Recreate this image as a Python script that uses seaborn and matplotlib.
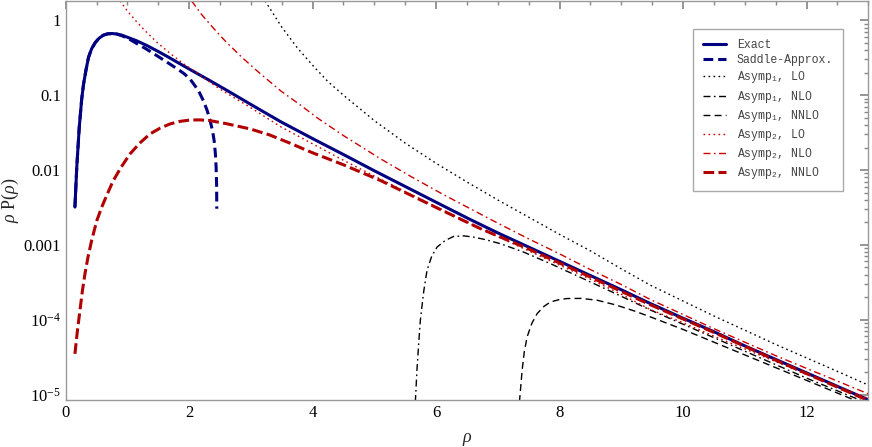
import matplotlib
matplotlib.use("Agg")
import matplotlib.pyplot as plt
import matplotlib.ticker as mticker
import seaborn as sns
import numpy as np
import pandas as pd

# values: rho and log10(rho*P(rho))
exact_x = [0.15, 0.18, 0.22, 0.26, 0.29, 0.33, 0.37, 0.42, 0.48, 0.54, 0.61, 0.68, 0.75, 0.83, 0.91,
           1.03, 1.15, 1.3, 1.48, 1.65, 1.83, 2.0, 2.34, 2.6, 2.99, 3.48, 4.0, 4.5, 5.0, 5.5, 6.0,
           6.56, 7.0, 7.5, 8.0, 8.5, 9.0, 9.47, 10.0, 10.5, 11.0, 11.5, 12.0, 12.5, 13.0]
exact_log = [-2.495, -1.96, -1.43, -1.05, -0.85, -0.66, -0.495, -0.38, -0.296, -0.24, -0.198, -0.18,
             -0.176, -0.182, -0.198, -0.235, -0.273, -0.33, -0.407, -0.485, -0.57, -0.65, -0.807,
             -0.93, -1.119, -1.353, -1.58, -1.793, -2.01, -2.22, -2.43, -2.664, -2.84, -3.03, -3.22,
             -3.41, -3.60, -3.784, -3.98, -4.16, -4.35, -4.53, -4.71, -4.89, -5.07]

saddle_x = [0.15, 0.18, 0.22, 0.26, 0.29, 0.33, 0.37, 0.42, 0.48, 0.54, 0.61, 0.68, 0.75, 0.83, 0.91,
            1.03, 1.15, 1.3, 1.48, 1.69, 1.83, 1.93, 2.02, 2.1, 2.17, 2.23, 2.29, 2.34, 2.38, 2.405,
            2.425, 2.437, 2.445, 2.448]
saddle_log = [-2.495, -1.96, -1.43, -1.05, -0.85, -0.66, -0.495, -0.38, -0.296, -0.24, -0.198, -0.18,
              -0.177, -0.185, -0.205, -0.25, -0.309, -0.38, -0.473, -0.585, -0.66, -0.72, -0.79,
              -0.88, -0.97, -1.073, -1.2, -1.34, -1.48, -1.607, -1.78, -1.963, -2.2, -2.517]

a1_lo_x = [3.23, 3.5, 3.75, 4.0, 4.25, 4.5, 5.0, 5.5, 6.0, 6.5, 7.0, 7.5, 8.0, 8.5, 9.0, 9.474, 10.0,
           10.5, 11.0, 11.5, 12.0, 12.5, 13.0]
a1_lo_log = [0.26, -0.09, -0.365, -0.6, -0.82, -1.0, -1.34, -1.64, -1.91, -2.16, -2.40, -2.63, -2.86,
             -3.08, -3.32, -3.54, -3.75, -3.95, -4.14, -4.33, -4.51, -4.69, -4.873]

a1_nlo_x = [5.664, 5.69, 5.72, 5.745, 5.8, 5.853, 5.93, 6.016, 6.15, 6.285, 6.45, 6.61, 6.8, 7.04, 7.4,
            7.85, 8.3, 8.8, 9.47, 10.0, 10.5, 11.0, 11.5, 12.0, 12.5, 13.0]
a1_nlo_log = [-5.1, -4.673, -4.3, -4.007, -3.62, -3.34, -3.15, -3.029, -2.94, -2.887, -2.88, -2.896,
              -2.93, -2.984, -3.09, -3.25, -3.42, -3.61, -3.87, -4.06, -4.24, -4.42, -4.60, -4.78,
              -4.95, -5.12]

a1_nnlo_x = [7.35, 7.394, 7.43, 7.475, 7.55, 7.638, 7.75, 7.853, 8.0, 8.124, 8.35, 8.61, 8.9, 9.2,
             9.474, 10.0, 10.5, 11.0, 11.5, 12.0, 12.5, 13.0]
a1_nnlo_log = [-5.1, -4.673, -4.42, -4.229, -4.05, -3.917, -3.82, -3.763, -3.73, -3.717, -3.715, -3.74,
               -3.80, -3.88, -3.963, -4.13, -4.30, -4.47, -4.64, -4.81, -4.98, -5.15]

a2_lo_x = [0.88, 1.0, 1.15, 1.3, 1.5, 1.69, 1.9, 2.12, 2.5, 2.99, 3.48, 4.0, 4.5, 5.0, 5.5, 6.0, 6.56,
           7.0, 7.5, 8.0, 8.5, 9.0, 9.47, 10.0, 10.5, 11.0, 11.5, 12.0, 12.5, 13.0]
a2_lo_log = [0.26, 0.125, -0.02, -0.15, -0.31, -0.44, -0.575, -0.70, -0.92, -1.163, -1.42, -1.65, -1.87,
             -2.08, -2.29, -2.49, -2.718, -2.89, -3.08, -3.27, -3.46, -3.66, -3.864, -4.04, -4.22,
             -4.39, -4.56, -4.73, -4.89, -5.05]

a2_nlo_x = [2.04, 2.2, 2.4, 2.6, 2.85, 3.1, 3.48, 3.8, 4.07, 4.5, 5.1, 5.6, 6.1, 6.56, 7.0, 7.5, 8.0,
            8.5, 9.0, 9.47, 10.0, 10.5, 11.0, 11.5, 12.0, 12.5, 13.0]
a2_nlo_log = [0.26, 0.08, -0.11, -0.29, -0.49, -0.675, -0.94, -1.13, -1.30, -1.54, -1.85, -2.09, -2.32,
              -2.52, -2.71, -2.92, -3.12, -3.33, -3.53, -3.73, -3.93, -4.12, -4.30, -4.48, -4.65,
              -4.82, -4.99]

a2_nnlo_x = [0.15, 0.19, 0.232, 0.27, 0.313, 0.36, 0.421, 0.503, 0.584, 0.68, 0.772, 0.9, 1.043, 1.2,
             1.367, 1.53, 1.691, 1.85, 2.02, 2.18, 2.34, 2.6, 2.99, 3.3, 3.637, 4.0, 4.5, 5.1, 5.5,
             6.0, 6.72, 7.5, 8.5, 9.47, 10.5, 11.5, 13.0]
a2_nnlo_log = [-4.456, -4.15, -3.873, -3.62, -3.384, -3.17, -2.94, -2.68, -2.496, -2.31, -2.14, -1.96,
               -1.784, -1.64, -1.517, -1.44, -1.384, -1.35, -1.331, -1.33, -1.34, -1.38, -1.451, -1.53,
               -1.642, -1.77, -1.93, -2.14, -2.30, -2.50, -2.784, -3.055, -3.43, -3.80, -4.17, -4.54,
               -5.08]

ytick_vals = [1, 0.1, 0.01, 0.001, 1e-4, 1e-5]
ytick_labels = ["1", "0.1", "0.01", "0.001", r"$10^{-4}$", r"$10^{-5}$"]

navy = "#000080"
red = "#cc0000"
darkred = "#b00000"

sns.set_theme(style="white")
plt.rcParams["font.family"] = ["Liberation Serif", "DejaVu Serif"]
plt.rcParams["mathtext.fontset"] = "custom"
plt.rcParams["mathtext.rm"] = "Liberation Serif"
plt.rcParams["mathtext.it"] = "Liberation Serif:italic"
plt.rcParams["mathtext.tt"] = "Liberation Mono"

fig = plt.figure(figsize=(8.72, 4.47), dpi=100)
ax = fig.add_axes([0.0753, 0.1051, 0.9204, 0.8929])

curves = [
    ("Exact", exact_x, exact_log, navy, 2.2, "-"),
    ("Saddle-Approx.", saddle_x, saddle_log, navy, 2.2, (0, (3.2, 1.6))),
    (r"Asymp$_{\mathtt{1}}$, LO", a1_lo_x, a1_lo_log, "black", 1.0, (0, (1.2, 2.4))),
    (r"Asymp$_{\mathtt{1}}$, NLO", a1_nlo_x, a1_nlo_log, "black", 1.0, (0, (5, 2.5, 1.2, 2.5))),
    (r"Asymp$_{\mathtt{1}}$, NNLO", a1_nnlo_x, a1_nnlo_log, "black", 1.0, (0, (5, 3))),
    (r"Asymp$_{\mathtt{2}}$, LO", a2_lo_x, a2_lo_log, red, 1.0, (0, (1.2, 2.4))),
    (r"Asymp$_{\mathtt{2}}$, NLO", a2_nlo_x, a2_nlo_log, red, 1.0, (0, (5, 2.5, 1.2, 2.5))),
    (r"Asymp$_{\mathtt{2}}$, NNLO", a2_nnlo_x, a2_nnlo_log, darkred, 2.2, (0, (3.5, 1.4))),
]

for label, xs, logs, color, lw, ls in curves:
    df = pd.DataFrame({"rho": xs, "val": np.power(10.0, logs)})
    sns.lineplot(data=df, x="rho", y="val", ax=ax, color=color, lw=lw, linestyle=ls,
                 label=label, estimator=None, sort=False)

ax.set_yscale("log")
ax.set_xlim(0, 13)
ax.set_ylim(10 ** -5.073, 1.82)
ax.set_yticks(ytick_vals)
ax.set_yticklabels(ytick_labels)
ax.yaxis.set_minor_locator(mticker.LogLocator(base=10, subs=range(2, 10), numticks=20))
ax.yaxis.set_minor_formatter(mticker.NullFormatter())
ax.xaxis.set_major_locator(mticker.MultipleLocator(2))
ax.xaxis.set_minor_locator(mticker.MultipleLocator(0.5))

for s in ax.spines.values():
    s.set_color("#999999")
    s.set_linewidth(1.0)
ax.tick_params(which="both", direction="in", top=True, right=True, color="#888888",
               labelsize=12, labelcolor="black")
ax.tick_params(which="major", length=6)
ax.tick_params(which="minor", length=3)

ax.set_xlabel(r"$\rho$", fontsize=13, labelpad=7)
ax.set_ylabel(r"$\rho$ P($\rho$)", fontsize=13, labelpad=2)

leg = ax.legend(loc="upper left", bbox_to_anchor=(0.7816, 0.93), fancybox=False,
                frameon=True, edgecolor="#aaaaaa", framealpha=1,
                prop={"family": "Liberation Mono", "size": 8.3},
                labelspacing=0.27, handlelength=2.0, handletextpad=0.9,
                borderpad=0.9, borderaxespad=0)
for t in leg.get_texts():
    t.set_color("#444444")

fig.savefig("out.png", dpi=100)
